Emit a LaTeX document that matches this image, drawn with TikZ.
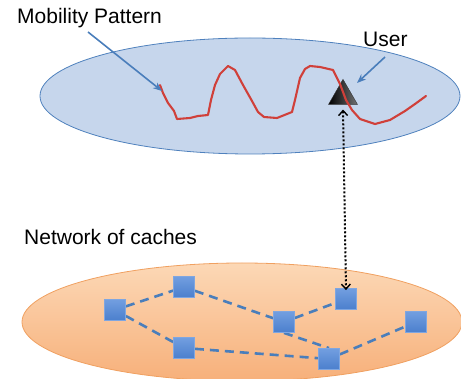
\documentclass[tikz,border=0pt]{standalone}
\usepackage{fontspec}
\setmainfont{Liberation Sans}
\usetikzlibrary{arrows.meta,shapes.geometric}
\definecolor{topfill}{HTML}{C6D6EC}
\definecolor{topline}{HTML}{4F81BD}
\definecolor{orangeA}{HTML}{FCD8B6}
\definecolor{orangeB}{HTML}{F7B07A}
\definecolor{orangeline}{HTML}{F0A060}
\definecolor{sqfill}{HTML}{4F86D8}
\definecolor{sqline}{HTML}{7FA6E0}
\definecolor{edgeblue}{HTML}{4A7EBB}
\definecolor{arrowblue}{HTML}{4A7EBB}
\definecolor{pathred}{HTML}{D0403A}
\tikzset{
  lbl/.style={font=\fontsize{21}{25}\selectfont, inner sep=0pt, anchor=west},
  cache/.style={draw=sqline, line width=0.8pt, top color=sqfill!80!white, bottom color=sqfill!95!black, minimum size=21pt, inner sep=0pt},
  link/.style={draw=edgeblue, line width=2.6pt, dash pattern=on 9pt off 6pt},
  pointer/.style={draw=arrowblue, line width=1.6pt, -{Stealth[length=9pt,width=7pt]}}
}
\begin{document}
\begin{tikzpicture}[x=1pt,y=-1pt]
\useasboundingbox (0,0) rectangle (461,379);
% ellipses
\fill[topfill] (250,96) ellipse [x radius=210, y radius=58];
\draw[topline, line width=0.8pt] (250,96) ellipse [x radius=210, y radius=58];
\shade[top color=orangeA, bottom color=orangeB] (242,322) ellipse [x radius=220, y radius=59];
\draw[orangeline, line width=0.8pt] (242,322) ellipse [x radius=220, y radius=59];
% labels
\node[lbl] (mob) at (17,18) {Mobility Pattern};
\node[lbl] (usr) at (363,39) {User};
\node[lbl] (net) at (24,237) {Network of caches};
% user triangle
\node[draw=black!80, isosceles triangle, isosceles triangle apex angle=60, shape border rotate=90,
  minimum height=25pt, inner sep=0pt, left color=black, right color=black!55] (tri) at (343,96) {};
% mobility path
\draw[pathred, line width=2.1pt, line join=round, line cap=round]
  (160,85) -- (163,93) -- (168,103) -- (174,111) -- (177,119) -- (190,118) -- (198,116) -- (208,115)
  -- (211,100) -- (215,85) -- (220,74) -- (228,66) -- (235,70) -- (243,85) -- (252,101) -- (258,112)
  -- (264,117) -- (277,118) -- (292,112) -- (295,100) -- (300,78) -- (305,69) -- (310,66) -- (320,67)
  -- (333,70) -- (340,84) -- (346,100) -- (352,110) -- (360,119) -- (375,124) -- (390,120) -- (405,111)
  -- (415,104) -- (426,96);
% caches
\node[cache] (s1) at (115,310) {};
\node[cache] (s2) at (184,287) {};
\node[cache] (s3) at (284,322) {};
\node[cache] (s4) at (346,299) {};
\node[cache] (s5) at (416,322) {};
\node[cache] (s6) at (184,348) {};
\node[cache] (s7) at (329,359) {};
% links (drawn then caches redrawn on top)
\draw[link] (s1) -- (s2);
\draw[link] (s1) -- (s6);
\draw[link] (s2) -- (s3);
\draw[link] (s3.south) -- (s7.north);
\draw[link] (s3) -- (s4);
\draw[link] (s6) -- (s7);
\draw[link] (s7) -- (s5);
\node[cache] at (s1) {};
\node[cache] at (s2) {};
\node[cache] at (s3) {};
\node[cache] at (s4) {};
\node[cache] at (s5) {};
\node[cache] at (s6) {};
\node[cache] at (s7) {};
% pointers
\coordinate (mobend) at (162,91);
\coordinate (mobstart) at (88,32);
\draw[pointer] (mobstart) -- (mobend);
\coordinate (usrstart) at (385,57);
\coordinate (usrend) at (357,83);
\draw[pointer] (usrstart) -- (usrend);
% dotted link user <-> cache
\draw[line width=2pt, dotted, {Straight Barb[length=5pt,width=9pt,line width=1.4pt]}-{Straight Barb[length=5pt,width=9pt,line width=1.4pt]}]
  ([yshift=-5pt]tri.south) -- ([yshift=-2pt]s4.north);
\end{tikzpicture}
\end{document}
